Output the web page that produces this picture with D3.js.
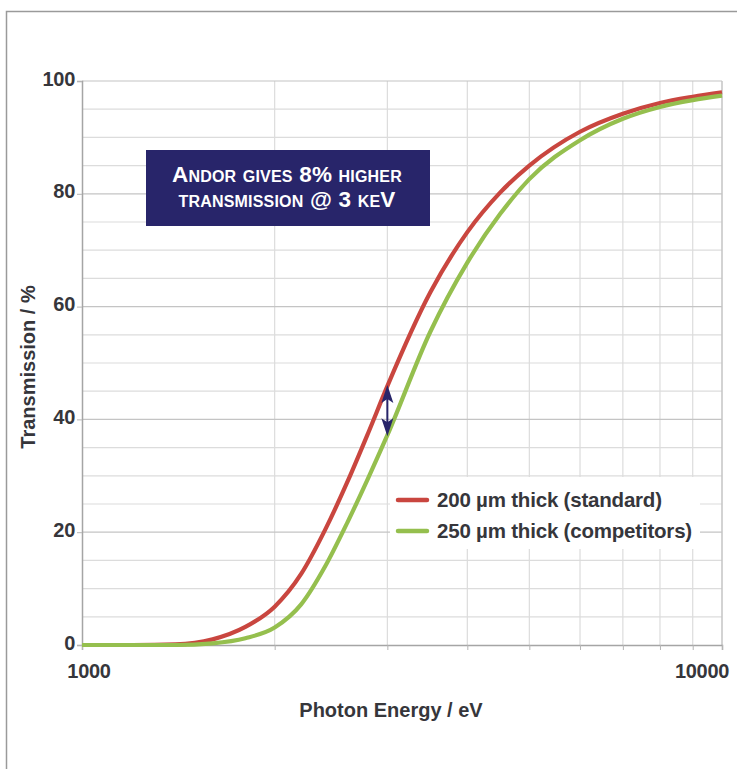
<!DOCTYPE html>
<meta charset="utf-8">
<style>
body {
  margin: 0;
  background: #fff;
}
svg {
  display: block;
  font-family: "Liberation Sans", Arial, sans-serif;
}
.tick-label {
  font-weight: bold;
  fill: #36363b;
}
</style>
<script src="https://cdn.jsdelivr.net/npm/d3@7"></script>
<body></body>
<script>

var width = 737;
var height = 769;

// photon energy (eV) and transmission (%)
var energies = [1000, 1200, 1400, 1600, 1800, 2000, 2200, 2400, 2600, 2800, 3000, 3500, 4000, 4500, 5000, 6000, 7000, 8000, 9000, 10000];
var standard200 = [0, 0, 0.1, 1.0, 3.2, 6.8, 12.6, 20.5, 29.0, 37.6, 45.9, 62.5, 73.2, 80.2, 85.0, 91.0, 94.2, 96.1, 97.2, 98.0];
var competitors250 = [0, 0, 0, 0.3, 1.2, 3.1, 7.2, 14.0, 21.8, 29.6, 37.2, 55.5, 67.8, 76.4, 82.6, 89.5, 93.3, 95.4, 96.6, 97.4];

var seriesNames = ['200 µm thick (standard)', '250 µm thick (competitors)'];
var seriesColors = ['#c9463f', '#95bf4e'];

var yTicks = [0, 20, 40, 60, 80, 100];
var xTickLabels = [1000, 10000];

var margin = {left: 82, right: 15, top: 81, bottom: 124};

var x = d3.scaleLog()
	.domain([1000, 10000])
	.range([margin.left, width - margin.right]);

var y = d3.scaleLinear()
	.domain([0, 100])
	.range([height - margin.bottom, margin.top]);

var svg = d3.select('body').append('svg')
	.attr('width', width)
	.attr('height', height);

//frame
svg.append('rect')
	.attr('x', 6.5)
	.attr('y', 11.5)
	.attr('width', width + 20)
	.attr('height', height + 20)
	.attr('fill', 'none')
	.attr('stroke', '#9a9a9a')
	.attr('stroke-width', 1.5);

//minor horizontal grid every 5
var minorY = d3.range(5, 100, 5).filter(function(v) { return v % 20 !== 0; });
svg.append('g')
	.selectAll('line')
	.data(minorY)
	.enter().append('line')
	.attr('x1', x.range()[0])
	.attr('x2', x.range()[1])
	.attr('y1', function(d) { return y(d); })
	.attr('y2', function(d) { return y(d); })
	.attr('stroke', '#dcdcdc')
	.attr('stroke-width', 1.2);

//vertical grid
var xGrid = x.ticks(10).filter(function(v) { return v > 1000 && v < 10000; });
svg.append('g')
	.selectAll('line')
	.data(xGrid)
	.enter().append('line')
	.attr('x1', function(d) { return x(d); })
	.attr('x2', function(d) { return x(d); })
	.attr('y1', y(100))
	.attr('y2', y(0))
	.attr('stroke', '#dcdcdc')
	.attr('stroke-width', 1.2);

//major horizontal grid
svg.append('g')
	.selectAll('line')
	.data(yTicks.filter(function(v) { return v > 0; }))
	.enter().append('line')
	.attr('x1', x.range()[0])
	.attr('x2', x.range()[1])
	.attr('y1', function(d) { return y(d); })
	.attr('y2', function(d) { return y(d); })
	.attr('stroke', '#c4c4c4')
	.attr('stroke-width', 1.2);

//right edge
svg.append('line')
	.attr('x1', x.range()[1]).attr('x2', x.range()[1])
	.attr('y1', y(100)).attr('y2', y(0))
	.attr('stroke', '#c4c4c4')
	.attr('stroke-width', 1.5);

//axes
var xAxis = d3.axisBottom(x)
	.tickValues(x.ticks(10))
	.tickSize(5)
	.tickFormat('');
var xg = svg.append('g')
	.attr('transform', 'translate(0,' + y(0) + ')')
	.call(xAxis);
xg.select('.domain').attr('stroke', '#a5a5a5').attr('stroke-width', 1.5);
xg.selectAll('.tick line').attr('stroke', '#b5b5b5');

var yAxis = d3.axisLeft(y)
	.tickValues(yTicks)
	.tickSize(5)
	.tickFormat('');
var yg = svg.append('g')
	.attr('transform', 'translate(' + x.range()[0] + ',0)')
	.call(yAxis);
yg.select('.domain').attr('stroke', '#a5a5a5').attr('stroke-width', 1.5);
yg.selectAll('.tick line').attr('stroke', '#b5b5b5');

//y tick labels
svg.append('g')
	.selectAll('text')
	.data(yTicks)
	.enter().append('text')
	.attr('class', 'tick-label')
	.attr('x', 75)
	.attr('y', function(d) { return y(d) + 4.5; })
	.attr('text-anchor', 'end')
	.attr('font-size', 20)
	.attr('letter-spacing', -0.3)
	.text(function(d) { return d; });

//x tick labels
svg.append('g')
	.selectAll('text')
	.data(xTickLabels)
	.enter().append('text')
	.attr('class', 'tick-label')
	.attr('x', function(d) { return d === 1000 ? x(d) + 7 : x(d) - 20; })
	.attr('y', 678)
	.attr('text-anchor', 'middle')
	.attr('font-size', 20)
	.attr('letter-spacing', -0.3)
	.text(function(d) { return d; });

//axis titles
svg.append('text')
	.attr('class', 'tick-label')
	.attr('x', 391)
	.attr('y', 717)
	.attr('text-anchor', 'middle')
	.attr('font-size', 20)
	.text('Photon Energy / eV');

svg.append('text')
	.attr('class', 'tick-label')
	.attr('transform', 'translate(35,' + 367 + ') rotate(-90)')
	.attr('text-anchor', 'middle')
	.attr('font-size', 20)
	.text('Transmission / %');

//curves
var line = d3.line()
	.x(function(d) { return x(d[0]); })
	.y(function(d) { return y(d[1]); })
	.curve(d3.curveMonotoneX);

var series = [standard200, competitors250];
svg.append('g')
	.selectAll('path')
	.data(series)
	.enter().append('path')
	.attr('d', function(vals) { return line(d3.zip(energies, vals)); })
	.attr('fill', 'none')
	.attr('stroke', function(d, i) { return seriesColors[i]; })
	.attr('stroke-width', 4.2)
	.attr('stroke-linejoin', 'round');

//annotation box
svg.append('rect')
	.attr('x', 146)
	.attr('y', 150)
	.attr('width', 284)
	.attr('height', 76)
	.attr('fill', '#28256a');

var noteLines = ['Andor gives 8% higher', 'transmission @ 3 keV'];
svg.append('g')
	.selectAll('text')
	.data(noteLines)
	.enter().append('text')
	.attr('x', 287)
	.attr('y', function(d, i) { return 182 + i * 25; })
	.attr('fill', '#fff')
	.attr('font-weight', 'bold')
	.attr('font-size', 22.5)
	.attr('font-variant', 'small-caps')
	.attr('letter-spacing', 0.2)
	.attr('text-anchor', 'middle')
	.text(function(d) { return d; });

//difference arrow at 3 keV
var arrowX = x(3000);
var yTop = y(standard200[energies.indexOf(3000)]);
var yBot = y(competitors250[energies.indexOf(3000)]);
svg.append('line')
	.attr('x1', arrowX).attr('x2', arrowX)
	.attr('y1', yTop + 10).attr('y2', yBot - 10)
	.attr('stroke', '#28256a')
	.attr('stroke-width', 2);
svg.append('path')
	.attr('d', 'M' + arrowX + ',' + (yTop - 1) + 'L' + (arrowX - 6) + ',' + (yTop + 17) + 'L' + arrowX + ',' + (yTop + 13) + 'L' + (arrowX + 6) + ',' + (yTop + 17) + 'Z')
	.attr('fill', '#28256a');
svg.append('path')
	.attr('d', 'M' + arrowX + ',' + (yBot + 1) + 'L' + (arrowX - 6) + ',' + (yBot - 17) + 'L' + arrowX + ',' + (yBot - 13) + 'L' + (arrowX + 6) + ',' + (yBot - 17) + 'Z')
	.attr('fill', '#28256a');

//legend
svg.append('rect')
	.attr('x', 390)
	.attr('y', 477)
	.attr('width', 310)
	.attr('height', 72)
	.attr('fill', '#fff');

var legend = svg.append('g')
	.selectAll('g')
	.data(seriesNames)
	.enter().append('g')
	.attr('transform', function(d, i) { return 'translate(398,' + (500 + i * 31) + ')'; });
legend.append('line')
	.attr('x1', 0).attr('x2', 29)
	.attr('stroke', function(d, i) { return seriesColors[i]; })
	.attr('stroke-width', 4.5)
	.attr('stroke-linecap', 'round');
legend.append('text')
	.attr('class', 'tick-label')
	.attr('x', 39)
	.attr('y', 7)
	.attr('font-size', 20.5)
	.attr('letter-spacing', -0.2)
	.text(function(d) { return d; });

</script>
